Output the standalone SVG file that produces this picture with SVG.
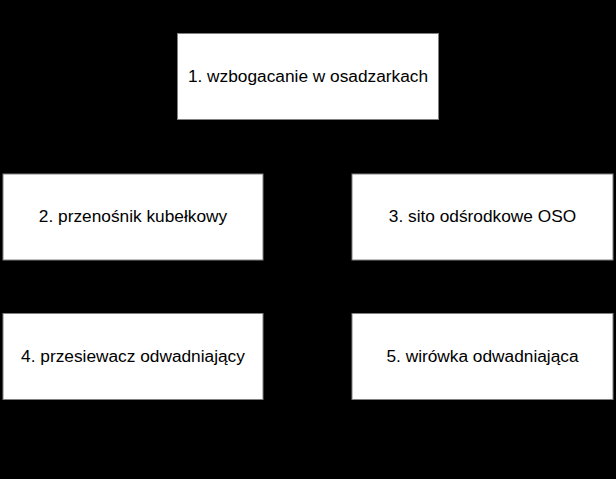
<svg xmlns="http://www.w3.org/2000/svg" width="616" height="479" viewBox="0 0 616 479">
<style>
.box{fill:#ffffff;stroke:#808080;stroke-width:1}
.lbl{font-family:"Liberation Sans",Arial,sans-serif;font-size:17.3px;fill:#000000;text-anchor:middle;dominant-baseline:central}
</style>
<rect x="0" y="0" width="616" height="479" fill="#000000"/>
<g id="connectors"></g>
<g id="node1"><rect class="box" x="177.5" y="33.5" width="261" height="86"/><text class="lbl" x="308" y="76">1. wzbogacanie w osadzarkach</text></g>
<g id="node2"><rect class="box" x="3" y="174" width="260" height="86"/><text class="lbl" x="133" y="216">2. przenośnik kubełkowy</text></g>
<g id="node3"><rect class="box" x="352" y="174" width="261" height="86"/><text class="lbl" x="482.5" y="216">3. sito odśrodkowe OSO</text></g>
<g id="node4"><rect class="box" x="3" y="313.5" width="260" height="86"/><text class="lbl" x="133" y="356">4. przesiewacz odwadniający</text></g>
<g id="node5"><rect class="box" x="352" y="313.5" width="261" height="86"/><text class="lbl" x="482.5" y="356">5. wirówka odwadniająca</text></g>
</svg>
